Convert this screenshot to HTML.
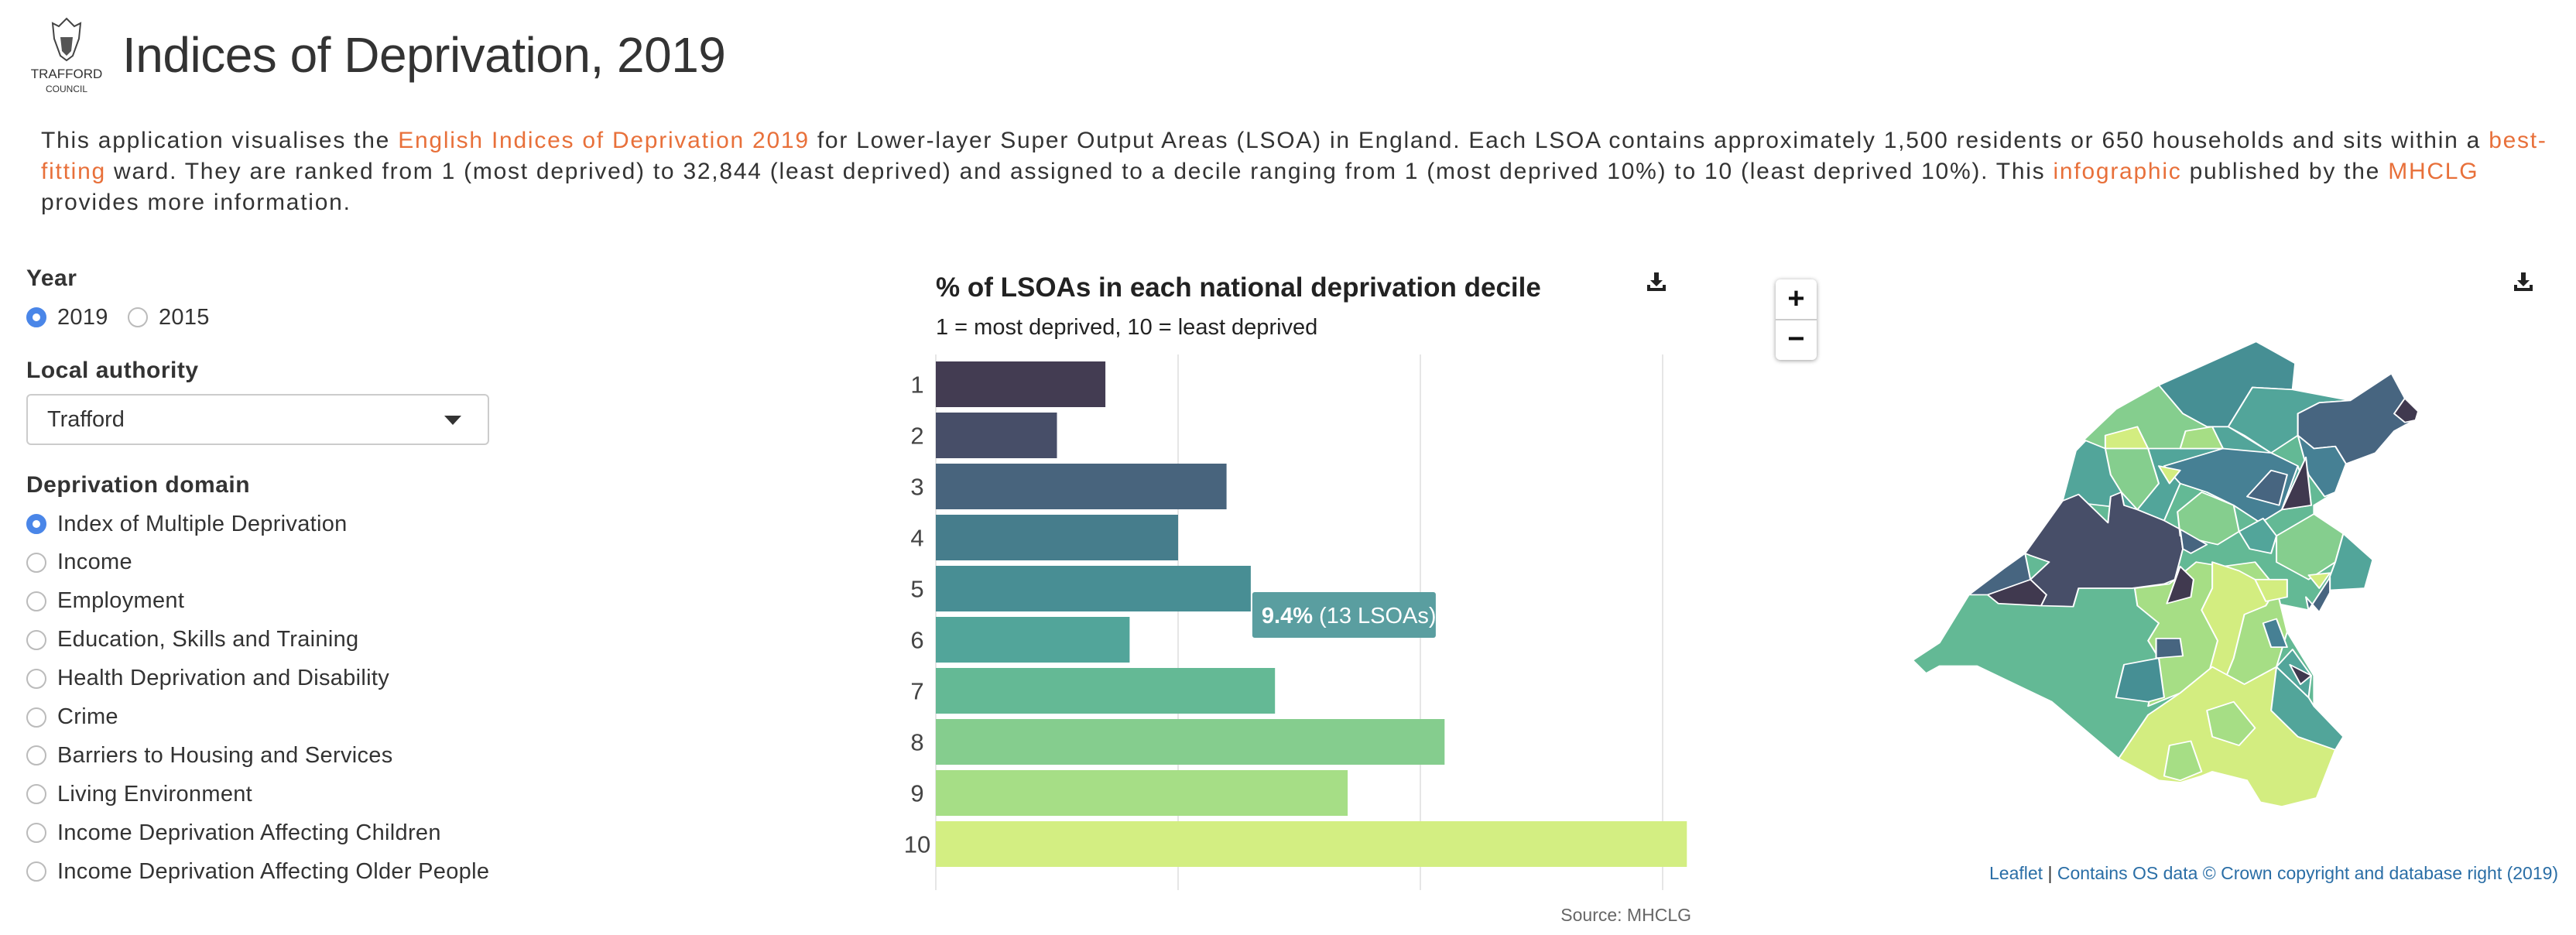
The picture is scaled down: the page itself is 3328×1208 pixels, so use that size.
<!DOCTYPE html>
<html><head><meta charset="utf-8"><style>
body{margin:0;width:3328px;height:1208px;background:#fff;font-family:"Liberation Sans",sans-serif;color:#333;position:relative;overflow:hidden}
.a{position:absolute;white-space:nowrap}
.lnk{color:#e8703a}
.lbl{font-size:30px;font-weight:bold;color:#333;letter-spacing:0.5px}
.radio{position:absolute;left:34px;height:34px;display:flex;align-items:center;font-size:29px;color:#333;letter-spacing:0.3px}
.rc{width:26px;height:26px;border-radius:50%;border:2px solid #bbb;box-sizing:border-box;margin-right:14px;background:#fff}
.rc.on{border:8px solid #4a86e8}
</style></head><body>
<div class="a" style="left:36px;top:20px;width:100px;height:100px;text-align:center">
<svg width="60" height="62" viewBox="0 0 60 62"><path d="M30 4 L40 14 L48 10 L46 30 L38 52 L30 58 L22 52 L14 30 L12 10 L20 14 Z" fill="none" stroke="#444" stroke-width="2"/><path d="M22 28 L38 28 L36 46 L30 52 L24 46 Z" fill="#555"/></svg>
<div style="font-size:17px;line-height:18px;color:#333">TRAFFORD<br><span style="font-size:12px">COUNCIL</span></div></div>
<div class="a" style="left:158px;top:34px;font-size:64px;color:#333;letter-spacing:-0.5px">Indices of Deprivation, 2019</div>
<div class="a" style="left:53px;top:162px;font-size:30px;line-height:40px;letter-spacing:1.75px;color:#333">
This application visualises the <span class="lnk">English Indices of Deprivation 2019</span> for Lower-layer Super Output Areas (LSOA) in England. Each LSOA contains approximately 1,500 residents or 650 households and sits within a <span class="lnk">best-</span><br><span class="lnk">fitting</span> ward. They are ranked from 1 (most deprived) to 32,844 (least deprived) and assigned to a decile ranging from 1 (most deprived 10%) to 10 (least deprived 10%). This <span class="lnk">infographic</span> published by the <span class="lnk">MHCLG</span><br>provides more information.</div>

<div class="a lbl" style="left:34px;top:343px">Year</div>
<div class="radio" style="top:393px"><div class="rc on"></div>2019</div>
<div class="radio" style="top:393px;left:165px"><div class="rc"></div>2015</div>
<div class="a lbl" style="left:34px;top:462px">Local authority</div>
<div class="a" style="left:34px;top:509px;width:598px;height:66px;border:2px solid #ccc;border-radius:6px;box-sizing:border-box;font-size:29px;line-height:62px;padding-left:25px">Trafford<div style="position:absolute;right:34px;top:26px;width:0;height:0;border-left:11px solid transparent;border-right:11px solid transparent;border-top:12px solid #333"></div></div>
<div class="a lbl" style="left:34px;top:610px">Deprivation domain</div>
<div id="domains"></div>

<svg class="a" style="left:0;top:0" width="3328" height="1208" id="chart">
<text x="1209" y="383" font-size="35" font-weight="bold" fill="#222">% of LSOAs in each national deprivation decile</text>
<text x="1209" y="432" font-size="29" fill="#222">1 = most deprived, 10 = least deprived</text>
<g transform="translate(2128,352)"><path d="M9 0 h6 v10 h5 l-8 8 l-8 -8 h5z M0 16 h4 v4 h16 v-4 h4 v8 h-24z" fill="#222"/></g>
<g id="grid"></g><g id="bars"></g><g id="ylabels"></g>
<g><rect id="tipr" x="1620" y="765" width="237" height="59" rx="3" fill="#5a9ea0"/><text id="tipt" x="1631" y="805" font-size="29" fill="#fff"></text></g>
<text x="2185" y="1190" font-size="23" fill="#666" text-anchor="end">Source: MHCLG</text>
</svg>

<svg class="a" style="left:2250px;top:320px" width="1078" height="880" viewBox="0 0 1560 1560" preserveAspectRatio="none">
<g stroke="#fff" stroke-width="3" stroke-linejoin="round">
<polygon fill="#63b995" points="962,215 1035,265 1030,325 1138,350 1215,288 1240,345 1265,390 1220,420 1185,470 1130,495 1110,560 1070,590 1070,610 1125,655 1180,715 1165,780 1090,785 1060,830 1000,815 1020,880 1070,980 1070,1050 1125,1120 1110,1150 1075,1260 1010,1280 970,1270 945,1220 880,1200 860,1210 820,1225 780,1220 705,1170 580,1040 440,958 370,958 345,975 320,945 370,905 425,795 530,700 600,580 625,465 700,370 780,315"/>
<polygon fill="#52a59a" points="600,580 625,465 700,370 780,315 795,375 825,380 870,410 910,410 990,470 1040,500 1065,590 1010,600 970,630 920,590 870,560 820,540 790,625 740,600"/>
<polygon fill="#474e68" points="600,580 630,565 685,630 690,570 710,560 715,590 740,600 790,625 820,645 825,690 810,760 790,770 730,780 630,780 620,822 560,820 540,760 575,720 540,705 530,700"/>
<polygon fill="#40394f" points="460,795 500,770 540,760 570,795 560,820 480,815"/>
<polygon fill="#476580" points="425,795 490,735 530,700 540,760 460,795"/>
<polygon fill="#468f94" points="780,315 962,215 1035,265 1030,325 955,320 910,410 870,410 825,380 795,375"/>
<polygon fill="#52a59a" points="910,410 955,320 1030,325 1138,350 1080,355 1040,380 1040,430 990,470 940,430"/>
<polygon fill="#476580" points="1040,380 1080,355 1138,350 1215,288 1240,345 1265,390 1220,420 1185,470 1130,495 1110,455 1070,460 1040,430"/>
<polygon fill="#40394f" points="1240,345 1265,375 1260,395 1240,400 1220,380"/>
<polygon fill="#468094" points="1040,430 1070,460 1110,455 1130,495 1110,560 1090,570 1060,520"/>
<polygon fill="#85ce8e" points="700,370 780,315 825,380 870,410 900,460 680,460 640,440"/>
<polygon fill="#d3ed80" points="680,430 740,410 760,460 680,460"/>
<polygon fill="#a6de85" points="830,420 880,410 900,460 820,460"/>
<polygon fill="#85ce8e" points="680,460 760,460 780,540 740,600 710,560 690,520"/>
<polygon fill="#468094" points="900,460 990,470 1040,500 1010,600 970,630 920,590 870,560 820,540 790,500"/>
<polygon fill="#476580" points="945,570 990,510 1020,520 1005,590"/>
<polygon fill="#40394f" points="1010,600 1055,480 1065,590"/>
<polygon fill="#d3ed80" points="780,500 820,510 800,540"/>
<polygon fill="#85ce8e" points="815,605 860,560 920,590 930,650 890,680 820,660"/>
<polygon fill="#476580" points="820,645 870,680 840,700 825,690"/>
<polygon fill="#52a59a" points="930,650 975,620 1000,660 990,700 950,690"/>
<polygon fill="#85ce8e" points="1000,660 1070,610 1125,655 1110,720 1060,760 1000,720"/>
<polygon fill="#52a59a" points="1125,655 1180,715 1165,780 1090,785 1110,720"/>
<polygon fill="#a6de85" points="735,780 800,770 850,720 900,730 960,720 1000,780 1020,880 1000,960 940,1000 880,960 820,1020 760,1050 780,940 760,900 780,860 740,820"/>
<polygon fill="#d3ed80" points="880,720 930,740 960,760 1000,780 980,820 940,840 920,940 900,1000 870,990 890,900 860,830 880,780"/>
<polygon fill="#d3ed80" points="960,760 1020,760 1020,800 980,810"/>
<polygon fill="#d3ed80" points="1060,750 1100,745 1080,780"/>
<polygon fill="#40394f" points="795,815 820,730 845,760 840,800"/>
<polygon fill="#476580" points="1060,830 1100,755 1100,790 1080,835 1055,800"/>
<polygon fill="#468094" points="975,860 1000,850 1020,915 990,915"/>
<polygon fill="#d3ed80" points="705,1170 760,1070 820,1020 880,960 940,1000 1000,960 1060,1030 1110,1150 1075,1260 1010,1280 970,1270 945,1220 880,1200 860,1210 820,1225 780,1220"/>
<polygon fill="#a6de85" points="870,1060 920,1040 960,1100 930,1140 880,1120"/>
<polygon fill="#a6de85" points="800,1140 840,1130 860,1200 820,1220 790,1210"/>
<polygon fill="#52a59a" points="1000,960 1060,1030 1070,1050 1125,1120 1110,1150 1040,1120 990,1060"/>
<polygon fill="#468f94" points="700,1030 715,955 780,940 790,1030 760,1040"/>
<polygon fill="#476580" points="775,895 820,895 825,935 775,940"/>
<polygon fill="#52a59a" points="1000,960 1030,920 1065,980 1060,1030"/>
<polygon fill="#40394f" points="1025,955 1065,980 1045,1000"/>
</g></svg>
<div class="a" style="left:2294px;top:361px;width:53px;height:104px;background:#fff;border-radius:6px;box-shadow:0 1px 6px rgba(0,0,0,0.4)">
<div style="height:51px;border-bottom:2px solid #ccc;text-align:center;font-size:38px;line-height:51px;font-weight:bold;color:#111">+</div>
<div style="height:51px;text-align:center;font-size:38px;line-height:48px;font-weight:bold;color:#111">−</div></div>
<svg class="a" style="left:3248px;top:352px" width="26" height="26"><path d="M9 0 h6 v10 h5 l-8 8 l-8 -8 h5z M0 16 h4 v4 h16 v-4 h4 v8 h-24z" fill="#222"/></svg>
<div class="a" style="left:2570px;top:1115px;font-size:23px;color:#2a6ea6"><span>Leaflet</span> <span style="color:#333">|</span> Contains OS data © Crown copyright and database right (2019)</div>

<script>
const deciles=["1","2","3","4","5","6","7","8","9","10"];
const counts=[7,5,12,10,13,8,14,21,17,31];
const gridTicks=[0,10,20,30];
const barColors=["#433c52","#474e68","#48647d","#467d8c","#488e94","#52a59a","#64b995","#85cd8e","#a6de86","#d3ee82"];
const domains=["Index of Multiple Deprivation","Income","Employment","Education, Skills and Training","Health Deprivation and Disability","Crime","Barriers to Housing and Services","Living Environment","Income Deprivation Affecting Children","Income Deprivation Affecting Older People"];
const NS="http://www.w3.org/2000/svg";
const x0=1209,pxPer=31.3,yTop=467,pitch=66,bh=59;
const xS=v=>x0+v*pxPer;
const yS=i=>yTop+i*pitch;
const grid=document.getElementById('grid');
gridTicks.forEach(t=>{const l=document.createElementNS(NS,'line');
l.setAttribute('x1',xS(t));l.setAttribute('x2',xS(t));l.setAttribute('y1',458);l.setAttribute('y2',1150);
l.setAttribute('stroke','#e6e6e6');l.setAttribute('stroke-width','2');


grid.appendChild(l);});
const bars=document.getElementById('bars'),yl=document.getElementById('ylabels');
counts.forEach((c,i)=>{const r=document.createElementNS(NS,'rect');
r.setAttribute('x',x0);r.setAttribute('y',yS(i));r.setAttribute('width',xS(c)-x0);r.setAttribute('height',bh);r.setAttribute('fill',barColors[i]);


bars.appendChild(r);
const t=document.createElementNS(NS,'text');t.setAttribute('x',1185);t.setAttribute('y',yS(i)+bh/2+11);t.setAttribute('text-anchor','middle');t.setAttribute('font-size','31');t.setAttribute('fill','#444');t.textContent=deciles[i];


yl.appendChild(t);});
const total=counts.reduce((a,b)=>a+b,0);const hi=4;
const pct=(counts[hi]/total*100).toFixed(1);
document.getElementById('tipt').innerHTML='<tspan font-weight="bold">'+pct+'%</tspan> ('+counts[hi]+' LSOAs)';
const tx=xS(counts[hi])+2;document.getElementById('tipr').setAttribute('x',tx);document.getElementById('tipt').setAttribute('x',tx+12);
const dw=document.getElementById('domains');
domains.forEach((d,i)=>{const e=document.createElement('div');e.className='radio';e.style.top=(660+i*49.9)+'px';
e.innerHTML='<div class="rc'+(i==0?' on':'')+'"></div>'+d;


dw.appendChild(e);});
</script>
</body></html>
